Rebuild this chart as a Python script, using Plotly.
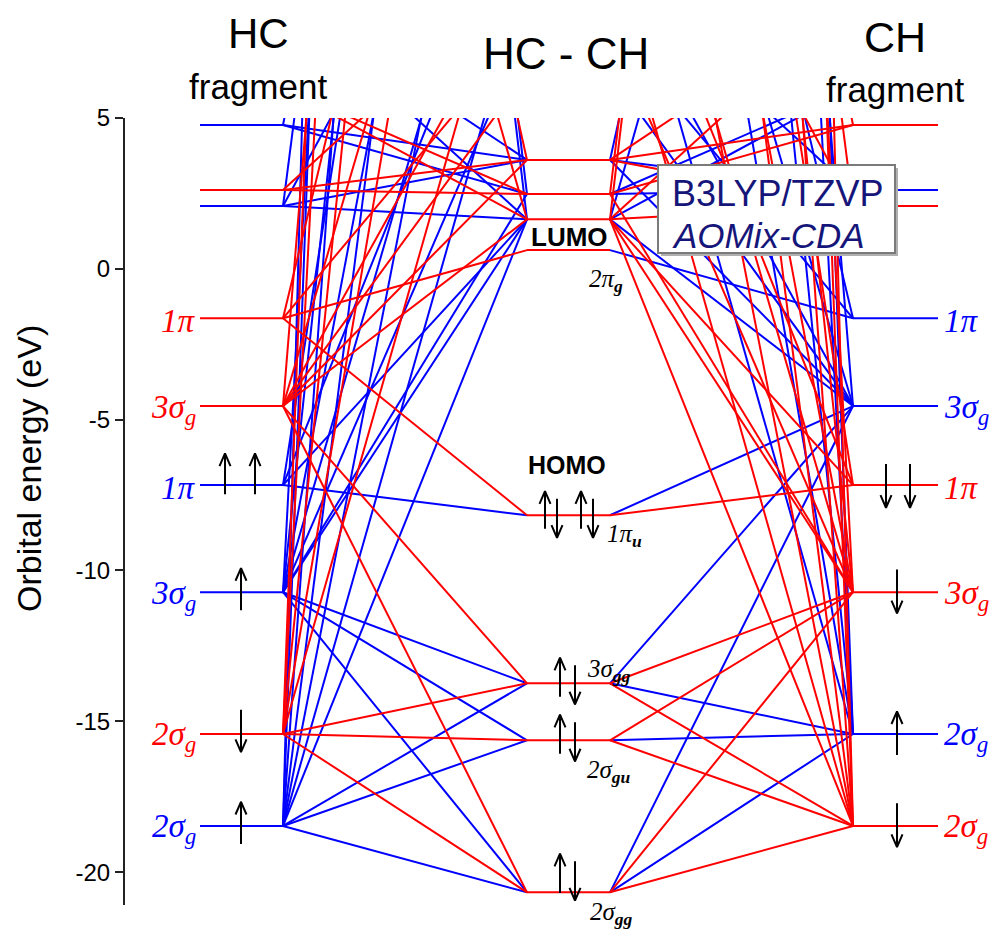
import plotly.graph_objects as go

# ---------------- data ----------------
# visible fragment levels (eV); same energies for HC (left) and CH (right) fragments
frag_E = [4.77, 2.61, 2.08, -1.64, -4.55, -7.17, -10.72, -15.42, -18.47]
left_spin = ["a", "b", "a", "b", "b", "a", "a", "b", "a"]      # a = alpha (blue), b = beta (red)
right_spin = ["b", "a", "b", "a", "a", "b", "b", "a", "b"]
frag_labels = ["", "", "", "1π", "3σ<sub>g</sub>", "1π", "3σ<sub>g</sub>",
               "2σ<sub>g</sub>", "2σ<sub>g</sub>"]
left_occ = [0, 0, 0, 0, 0, 2, 1, 1, 1]
right_occ = [0, 0, 0, 0, 0, 2, 1, 1, 1]
# fragment virtual levels lying above the 5 eV window (estimated)
frag_hidden_E = [6.0, 9.0, 30.0, 70.0, 40.0]
left_hidden_spin = ["b", "a", "b", "a", "b"]
right_hidden_spin = ["a", "b", "a", "b", "a"]

# HC-CH molecular levels (eV)
mol_E = [3.61, 2.48, 1.64, 0.62, -8.17, -13.74, -15.63, -20.67]
mol_occ = [0, 0, 0, 0, 4, 2, 2, 2]
mol_labels = ["", "", "", "2π<sub><b>g</b></sub>", "1π<sub><b>u</b></sub>",
              "3σ<sub><b>gg</b></sub>", "2σ<sub><b>gu</b></sub>", "2σ<sub><b>gg</b></sub>"]
# molecular virtual levels above the window (estimated)
mol_hidden_E = [6.5, 8, 10, 13, 17, 23, 32, 45, 65, 95, 140, 200, 280]

# correlation lines: (fragment index, molecular index) into visible+hidden lists
left_links = [
    (8, 5), (8, 6), (8, 7), (8, 2), (8, 10), (8, 13), (8, 15), (8, 17), (8, 19), (8, 20),
    (7, 5), (7, 6), (7, 7), (7, 11), (7, 14), (7, 16), (7, 18), (7, 19),
    (6, 5), (6, 6), (6, 7), (6, 2), (6, 1), (6, 9), (6, 12), (6, 14), (6, 16), (6, 18),
    (5, 4), (5, 2), (5, 11), (5, 15),
    (4, 5), (4, 7), (4, 2), (4, 0), (4, 8), (4, 10), (4, 13), (4, 17),
    (3, 3), (3, 4), (3, 9), (3, 14),
    (2, 2), (2, 0), (2, 12), (2, 16),
    (1, 1), (1, 0), (1, 10),
    (0, 0), (0, 1), (0, 15),
    (9, 2), (9, 1), (10, 2), (10, 0), (11, 2), (12, 2), (12, 1), (13, 0),
]
right_links = [
    (8, 5), (8, 6), (8, 7), (8, 2), (8, 10), (8, 13), (8, 15), (8, 17), (8, 19), (8, 20),
    (7, 5), (7, 6), (7, 7), (7, 11), (7, 14), (7, 16), (7, 18), (7, 19),
    (6, 5), (6, 6), (6, 7), (6, 2), (6, 1), (6, 9), (6, 12), (6, 14), (6, 16), (6, 18),
    (5, 4), (5, 2), (5, 11), (5, 15),
    (4, 5), (4, 7), (4, 4), (4, 2), (4, 0), (4, 8), (4, 10), (4, 13), (4, 17),
    (3, 3), (3, 9), (3, 14),
    (2, 2), (2, 0), (2, 12), (2, 16),
    (1, 1), (1, 0), (1, 10),
    (0, 0), (0, 1), (0, 15),
    (9, 2), (9, 1), (10, 2), (10, 0), (11, 2), (12, 2), (12, 1), (13, 0),
]

y_ticks = [5, 0, -5, -10, -15, -20]
y_ticktext = ["5", "0", "-5", "-10", "-15", "-20"]

# ---------------- layout constants ----------------
BLUE, RED, BLACK = "#0000ff", "#ff0000", "#000000"
XL0, XL1 = 200, 283
XC0, XC1 = 527, 610
XR0, XR1 = 853, 938
Y_TOP, Y_BOT = 5.0, -21.09
PLOT_TOP_PX, PLOT_BOT_PX = 118, 905
PX_PER_EV = (PLOT_BOT_PX - PLOT_TOP_PX) / (Y_TOP - Y_BOT)


def paper_y(py):
    return (PLOT_BOT_PX - py) / (PLOT_BOT_PX - PLOT_TOP_PX)


def ev_from_px(py):
    return Y_TOP - (py - PLOT_TOP_PX) / PX_PER_EV


all_frag = frag_E + frag_hidden_E
all_left_spin = left_spin + left_hidden_spin
all_right_spin = right_spin + right_hidden_spin
all_mol = mol_E + mol_hidden_E

segs = {"a": ([], []), "b": ([], [])}


def add(spin, x0, y0, x1, y1):
    xs, ys = segs[spin]
    xs += [x0, x1, None]
    ys += [y0, y1, None]


for fi, mi in left_links:
    add(all_left_spin[fi], XL1, all_frag[fi], XC0, all_mol[mi])
for fi, mi in right_links:
    add(all_right_spin[fi], XC1, all_mol[mi], XR0, all_frag[fi])
for e, s in zip(frag_E, left_spin):
    add(s, XL0, e, XL1, e)
for e, s in zip(frag_E, right_spin):
    add(s, XR0, e, XR1, e)
for e in mol_E:
    add("b", XC0, e, XC1, e)

fig = go.Figure()
for s, col in (("a", BLUE), ("b", RED)):
    fig.add_trace(go.Scatter(x=segs[s][0], y=segs[s][1], mode="lines",
                             line=dict(color=col, width=2), hoverinfo="skip",
                             showlegend=False))

# electron arrows
ax, ay = [], []
HEAD_H = 0.42
HEAD_W = 5.5


def arrow(x, e, up, lo=0.7, hi=0.7):
    if up:
        y0, y1 = e - lo, e + hi
    else:
        y0, y1 = e + hi, e - lo
    ax.extend([x, x, None])
    ay.extend([y0, y1, None])
    d = -HEAD_H if up else HEAD_H
    ax.extend([x - HEAD_W, x, x + HEAD_W, None])
    ay.extend([y1 + d, y1, y1 + d, None])


for e, s, n in zip(frag_E, left_spin, left_occ):
    if n == 1:
        arrow(241, e, s == "a", 0.6, 0.8)
    elif n == 2:
        arrow(225, e, s == "a", 0.3, 1.05)
        arrow(255, e, s == "a", 0.3, 1.05)
for e, s, n in zip(frag_E, right_spin, right_occ):
    if n == 1:
        arrow(897, e, s == "a", 0.7, 0.75)
    elif n == 2:
        arrow(886, e, s == "a", 0.75, 0.7)
        arrow(910, e, s == "a", 0.75, 0.7)
for e, n in zip(mol_E, mol_occ):
    if n == 2:
        shift = max(0.0, (Y_BOT + 0.15) - (e - 0.7))
        arrow(560, e + shift, True, 0.45, 0.85)
        arrow(575, e + shift, False, 0.7, 0.6)
    elif n == 4:
        arrow(545, e, True, 0.45, 0.8)
        arrow(557, e, False, 0.75, 0.55)
        arrow(581, e, True, 0.45, 0.8)
        arrow(593, e, False, 0.75, 0.55)
fig.add_trace(go.Scatter(x=ax, y=ay, mode="lines", line=dict(color=BLACK, width=2),
                         hoverinfo="skip", showlegend=False))

ann = []
SERIF = "Liberation Serif"
SANS = "Liberation Sans, Arial"

for e, s, lab in zip(frag_E, left_spin, frag_labels):
    if lab:
        ann.append(dict(x=198, y=e - 0.1, xref="x", yref="y", text="<i>" + lab + "</i>",
                        xanchor="right", yanchor="middle", showarrow=False,
                        font=dict(family=SERIF, size=33, color=BLUE if s == "a" else RED)))
for e, s, lab in zip(frag_E, right_spin, frag_labels):
    if lab:
        ann.append(dict(x=942, y=e - 0.1, xref="x", yref="y", text="<i>" + lab + "</i>",
                        xanchor="left", yanchor="middle", showarrow=False,
                        font=dict(family=SERIF, size=33, color=BLUE if s == "a" else RED)))

# molecular labels (positions in pixels next to levels)
mol_label_pos = {3: (587, 280), 4: (605, 535), 5: (585, 670), 6: (585, 771), 7: (588, 914)}
for i, (px, py) in mol_label_pos.items():
    ann.append(dict(x=px, y=paper_y(py), xref="x", yref="paper",
                    text="<i>" + mol_labels[i] + "</i>", xanchor="left", yanchor="middle",
                    showarrow=False, font=dict(family=SERIF, size=25, color=BLACK)))

ann.append(dict(x=569, y=paper_y(237), xref="x", yref="paper", text="<b>LUMO</b>",
                xanchor="center", yanchor="middle",
                showarrow=False, font=dict(family=SANS, size=26, color=BLACK)))
ann.append(dict(x=567, y=paper_y(465), xref="x", yref="paper", text="<b>HOMO</b>",
                xanchor="center", yanchor="middle",
                showarrow=False, font=dict(family=SANS, size=25, color=BLACK)))

# titles
for txt, px, py, size in (("HC", 258, 33, 42), ("fragment", 258, 87, 35),
                          ("HC - CH", 566, 54, 44), ("CH", 895, 37, 43),
                          ("fragment", 895, 89, 35)):
    ann.append(dict(x=px, y=paper_y(py), xref="x", yref="paper", text=txt,
                    xanchor="center", yanchor="middle",
                    showarrow=False, font=dict(family=SANS, size=size, color=BLACK)))

# axis title
ann.append(dict(x=(29 - 125) / 875, y=paper_y(469), xref="paper", yref="paper",
                text="Orbital energy (eV)", textangle=-90, showarrow=False,
                xanchor="center", yanchor="middle",
                font=dict(family=SANS, size=34, color=BLACK)))

# method box
NAVY = "#16167a"
ann.append(dict(x=670, y=ev_from_px(193), xref="x", yref="y", text="B3LYP/TZVP",
                xanchor="left", yanchor="middle", showarrow=False,
                font=dict(family=SANS, size=36, color=NAVY)))
ann.append(dict(x=670, y=ev_from_px(235), xref="x", yref="y", text="<i>AOMix-CDA</i>",
                xanchor="left", yanchor="middle", showarrow=False,
                font=dict(family=SANS, size=35, color=NAVY)))

shapes = [
    dict(type="rect", x0=661, x1=898, y0=ev_from_px(168), y1=ev_from_px(256),
         xref="x", yref="y", line=dict(width=0), fillcolor="#b0b0b0", layer="above"),
    dict(type="rect", x0=658, x1=895, y0=ev_from_px(165), y1=ev_from_px(253),
         xref="x", yref="y", line=dict(color="#7a7a7a", width=2), fillcolor="white",
         layer="above"),
]

fig.update_layout(
    width=1000, height=936,
    margin=dict(l=125, r=0, t=PLOT_TOP_PX, b=936 - PLOT_BOT_PX),
    paper_bgcolor="white", plot_bgcolor="white",
    xaxis=dict(range=[125, 1000], visible=False, fixedrange=True),
    yaxis=dict(range=[Y_BOT, Y_TOP], tickvals=y_ticks, ticktext=y_ticktext,
               ticks="outside", ticklen=8, tickwidth=2, tickcolor="#222222",
               showline=True, linewidth=2, linecolor="#222222", showgrid=False,
               zeroline=False, fixedrange=True,
               tickfont=dict(family=SANS, size=24, color=BLACK)),
    annotations=ann, shapes=shapes, showlegend=False,
)
fig.write_html("out.html", config={"displayModeBar": False},
               post_script="document.body.style.margin='0px';")
